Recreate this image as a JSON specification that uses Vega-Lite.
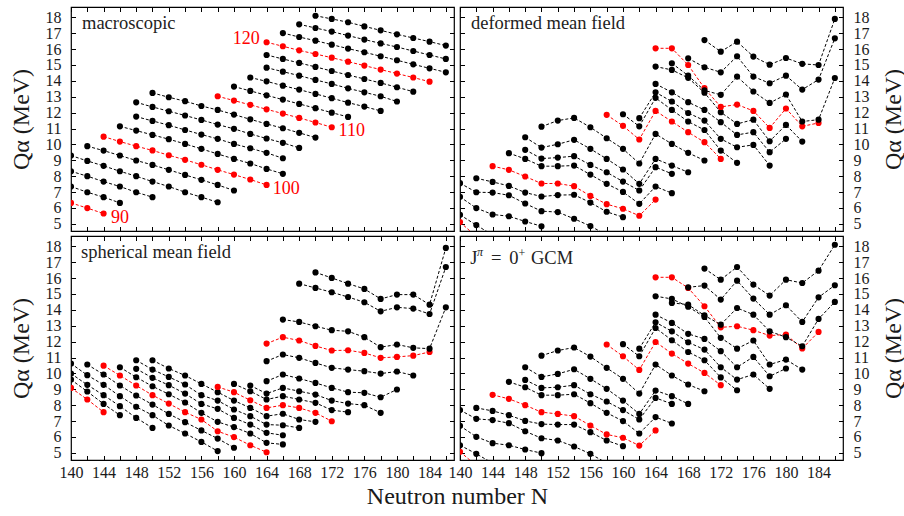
{
"$schema":"https://vega.github.io/schema/vega-lite/v6.json",
"padding":{"left":8,"top":5,"right":2,"bottom":2},
"background":"white",
"spacing":1,
"datasets":{
"lab":[{"p":"m","N":144.9,"Q":5.07,"t":"90"},{"p":"m","N":164.75,"Q":6.85,"t":"100"},{"p":"m","N":172.84,"Q":10.56,"t":"110"},{"p":"m","N":159.84,"Q":16.32,"t":"120"}],
"ttl":[{"p":"m","N":141.35,"Q":17.26,"t":"macroscopic"},{"p":"d","N":141.35,"Q":17.26,"t":"deformed mean field"},{"p":"s","N":141.23,"Q":17.26,"t":"spherical mean field"},{"p":"g","N":141.27,"Q":16.89,"t":"J"},{"p":"g","N":143.8,"Q":16.89,"t":"="},{"p":"g","N":146.05,"Q":16.89,"t":"0"},{"p":"g","N":148.71,"Q":16.89,"t":"GCM"}],
"sup":[{"p":"g","N":142.09,"Q":17.37,"t":"π"},{"p":"g","N":147.08,"Q":17.32,"t":"+"}],
"pts":[
{"p":"m","Z":90,"N":140,"Q":6.32},{"p":"m","Z":90,"N":142,"Q":5.99},{"p":"m","Z":90,"N":144,"Q":5.65},
{"p":"m","Z":92,"N":140,"Q":7.35},{"p":"m","Z":92,"N":142,"Q":6.99},{"p":"m","Z":92,"N":144,"Q":6.68},{"p":"m","Z":92,"N":146,"Q":6.32},
{"p":"m","Z":94,"N":140,"Q":8.31},{"p":"m","Z":94,"N":142,"Q":8.00},{"p":"m","Z":94,"N":144,"Q":7.66},{"p":"m","Z":94,"N":146,"Q":7.35},{"p":"m","Z":94,"N":148,"Q":6.99},{"p":"m","Z":94,"N":150,"Q":6.68},
{"p":"m","Z":96,"N":140,"Q":9.30},{"p":"m","Z":96,"N":142,"Q":8.96},{"p":"m","Z":96,"N":144,"Q":8.65},{"p":"m","Z":96,"N":146,"Q":8.31},{"p":"m","Z":96,"N":148,"Q":8.00},{"p":"m","Z":96,"N":150,"Q":7.66},{"p":"m","Z":96,"N":152,"Q":7.35},{"p":"m","Z":96,"N":154,"Q":6.99},{"p":"m","Z":96,"N":156,"Q":6.68},{"p":"m","Z":96,"N":158,"Q":6.36},
{"p":"m","Z":98,"N":142,"Q":9.89},{"p":"m","Z":98,"N":144,"Q":9.61},{"p":"m","Z":98,"N":146,"Q":9.30},{"p":"m","Z":98,"N":148,"Q":8.99},{"p":"m","Z":98,"N":150,"Q":8.71},{"p":"m","Z":98,"N":152,"Q":8.40},{"p":"m","Z":98,"N":154,"Q":8.08},{"p":"m","Z":98,"N":156,"Q":7.77},{"p":"m","Z":98,"N":158,"Q":7.45},{"p":"m","Z":98,"N":160,"Q":7.10},
{"p":"m","Z":100,"N":144,"Q":10.49},{"p":"m","Z":100,"N":146,"Q":10.18},{"p":"m","Z":100,"N":148,"Q":9.89},{"p":"m","Z":100,"N":150,"Q":9.62},{"p":"m","Z":100,"N":152,"Q":9.32},{"p":"m","Z":100,"N":154,"Q":9.03},{"p":"m","Z":100,"N":156,"Q":8.72},{"p":"m","Z":100,"N":158,"Q":8.40},{"p":"m","Z":100,"N":160,"Q":8.10},{"p":"m","Z":100,"N":162,"Q":7.79},{"p":"m","Z":100,"N":164,"Q":7.45},
{"p":"m","Z":102,"N":146,"Q":11.14},{"p":"m","Z":102,"N":148,"Q":10.87},{"p":"m","Z":102,"N":150,"Q":10.60},{"p":"m","Z":102,"N":152,"Q":10.33},{"p":"m","Z":102,"N":154,"Q":10.03},{"p":"m","Z":102,"N":156,"Q":9.72},{"p":"m","Z":102,"N":158,"Q":9.40},{"p":"m","Z":102,"N":160,"Q":9.09},{"p":"m","Z":102,"N":162,"Q":8.80},{"p":"m","Z":102,"N":164,"Q":8.46},{"p":"m","Z":102,"N":166,"Q":8.15},
{"p":"m","Z":104,"N":148,"Q":11.75},{"p":"m","Z":104,"N":150,"Q":11.48},{"p":"m","Z":104,"N":152,"Q":11.21},{"p":"m","Z":104,"N":154,"Q":10.91},{"p":"m","Z":104,"N":156,"Q":10.62},{"p":"m","Z":104,"N":158,"Q":10.35},{"p":"m","Z":104,"N":160,"Q":10.03},{"p":"m","Z":104,"N":162,"Q":9.76},{"p":"m","Z":104,"N":164,"Q":9.47},{"p":"m","Z":104,"N":166,"Q":9.13},
{"p":"m","Z":106,"N":148,"Q":12.65},{"p":"m","Z":106,"N":150,"Q":12.36},{"p":"m","Z":106,"N":152,"Q":12.09},{"p":"m","Z":106,"N":154,"Q":11.82},{"p":"m","Z":106,"N":156,"Q":11.54},{"p":"m","Z":106,"N":158,"Q":11.25},{"p":"m","Z":106,"N":160,"Q":10.98},{"p":"m","Z":106,"N":162,"Q":10.66},{"p":"m","Z":106,"N":164,"Q":10.37},{"p":"m","Z":106,"N":166,"Q":10.10},{"p":"m","Z":106,"N":168,"Q":9.78},
{"p":"m","Z":108,"N":150,"Q":13.24},{"p":"m","Z":108,"N":152,"Q":12.97},{"p":"m","Z":108,"N":154,"Q":12.72},{"p":"m","Z":108,"N":156,"Q":12.42},{"p":"m","Z":108,"N":158,"Q":12.17},{"p":"m","Z":108,"N":160,"Q":11.88},{"p":"m","Z":108,"N":162,"Q":11.58},{"p":"m","Z":108,"N":164,"Q":11.29},{"p":"m","Z":108,"N":166,"Q":11.02},{"p":"m","Z":108,"N":168,"Q":10.73},{"p":"m","Z":108,"N":170,"Q":10.43},
{"p":"m","Z":110,"N":158,"Q":13.03},{"p":"m","Z":110,"N":160,"Q":12.76},{"p":"m","Z":110,"N":162,"Q":12.49},{"p":"m","Z":110,"N":164,"Q":12.21},{"p":"m","Z":110,"N":166,"Q":11.94},{"p":"m","Z":110,"N":168,"Q":11.67},{"p":"m","Z":110,"N":170,"Q":11.38},{"p":"m","Z":110,"N":172,"Q":11.08},
{"p":"m","Z":112,"N":160,"Q":13.64},{"p":"m","Z":112,"N":162,"Q":13.37},{"p":"m","Z":112,"N":164,"Q":13.09},{"p":"m","Z":112,"N":166,"Q":12.82},{"p":"m","Z":112,"N":168,"Q":12.55},{"p":"m","Z":112,"N":170,"Q":12.28},{"p":"m","Z":112,"N":172,"Q":12.00},{"p":"m","Z":112,"N":174,"Q":11.73},
{"p":"m","Z":114,"N":162,"Q":14.21},{"p":"m","Z":114,"N":164,"Q":13.97},{"p":"m","Z":114,"N":166,"Q":13.70},{"p":"m","Z":114,"N":168,"Q":13.45},{"p":"m","Z":114,"N":170,"Q":13.18},{"p":"m","Z":114,"N":172,"Q":12.91},{"p":"m","Z":114,"N":174,"Q":12.63},{"p":"m","Z":114,"N":176,"Q":12.38},{"p":"m","Z":114,"N":178,"Q":12.11},
{"p":"m","Z":116,"N":164,"Q":14.83},{"p":"m","Z":116,"N":166,"Q":14.58},{"p":"m","Z":116,"N":168,"Q":14.33},{"p":"m","Z":116,"N":170,"Q":14.06},{"p":"m","Z":116,"N":172,"Q":13.81},{"p":"m","Z":116,"N":174,"Q":13.53},{"p":"m","Z":116,"N":176,"Q":13.28},{"p":"m","Z":116,"N":178,"Q":13.03},{"p":"m","Z":116,"N":180,"Q":12.70},
{"p":"m","Z":118,"N":164,"Q":15.63},{"p":"m","Z":118,"N":166,"Q":15.38},{"p":"m","Z":118,"N":168,"Q":15.13},{"p":"m","Z":118,"N":170,"Q":14.88},{"p":"m","Z":118,"N":172,"Q":14.62},{"p":"m","Z":118,"N":174,"Q":14.37},{"p":"m","Z":118,"N":176,"Q":14.12},{"p":"m","Z":118,"N":178,"Q":13.87},{"p":"m","Z":118,"N":180,"Q":13.60},{"p":"m","Z":118,"N":182,"Q":13.32},
{"p":"m","Z":120,"N":164,"Q":16.43},{"p":"m","Z":120,"N":166,"Q":16.18},{"p":"m","Z":120,"N":168,"Q":15.92},{"p":"m","Z":120,"N":170,"Q":15.69},{"p":"m","Z":120,"N":172,"Q":15.46},{"p":"m","Z":120,"N":174,"Q":15.21},{"p":"m","Z":120,"N":176,"Q":14.96},{"p":"m","Z":120,"N":178,"Q":14.71},{"p":"m","Z":120,"N":180,"Q":14.46},{"p":"m","Z":120,"N":182,"Q":14.21},{"p":"m","Z":120,"N":184,"Q":13.95},
{"p":"m","Z":122,"N":166,"Q":17.01},{"p":"m","Z":122,"N":168,"Q":16.76},{"p":"m","Z":122,"N":170,"Q":16.53},{"p":"m","Z":122,"N":172,"Q":16.28},{"p":"m","Z":122,"N":174,"Q":16.03},{"p":"m","Z":122,"N":176,"Q":15.80},{"p":"m","Z":122,"N":178,"Q":15.55},{"p":"m","Z":122,"N":180,"Q":15.30},{"p":"m","Z":122,"N":182,"Q":15.04},{"p":"m","Z":122,"N":184,"Q":14.79},{"p":"m","Z":122,"N":186,"Q":14.54},
{"p":"m","Z":124,"N":168,"Q":17.56},{"p":"m","Z":124,"N":170,"Q":17.33},{"p":"m","Z":124,"N":172,"Q":17.10},{"p":"m","Z":124,"N":174,"Q":16.85},{"p":"m","Z":124,"N":176,"Q":16.60},{"p":"m","Z":124,"N":178,"Q":16.36},{"p":"m","Z":124,"N":180,"Q":16.13},{"p":"m","Z":124,"N":182,"Q":15.88},{"p":"m","Z":124,"N":184,"Q":15.63},{"p":"m","Z":124,"N":186,"Q":15.38},
{"p":"m","Z":126,"N":170,"Q":18.10},{"p":"m","Z":126,"N":172,"Q":17.90},{"p":"m","Z":126,"N":174,"Q":17.69},{"p":"m","Z":126,"N":176,"Q":17.43},{"p":"m","Z":126,"N":178,"Q":17.18},{"p":"m","Z":126,"N":180,"Q":16.93},{"p":"m","Z":126,"N":182,"Q":16.70},{"p":"m","Z":126,"N":184,"Q":16.47},{"p":"m","Z":126,"N":186,"Q":16.22},

{"p":"d","Z":90,"N":140,"Q":5.11},{"p":"d","Z":90,"N":142,"Q":4.2},
{"p":"d","Z":92,"N":140,"Q":5.57},{"p":"d","Z":92,"N":142,"Q":4.92},{"p":"d","Z":92,"N":144,"Q":4.3},
{"p":"d","Z":94,"N":140,"Q":6.70},{"p":"d","Z":94,"N":142,"Q":5.99},{"p":"d","Z":94,"N":144,"Q":5.59},{"p":"d","Z":94,"N":146,"Q":5.48},{"p":"d","Z":94,"N":148,"Q":5.15},{"p":"d","Z":94,"N":150,"Q":4.85},
{"p":"d","Z":96,"N":140,"Q":7.56},{"p":"d","Z":96,"N":142,"Q":6.99},{"p":"d","Z":96,"N":144,"Q":6.97},{"p":"d","Z":96,"N":146,"Q":6.80},{"p":"d","Z":96,"N":148,"Q":6.28},{"p":"d","Z":96,"N":150,"Q":5.80},{"p":"d","Z":96,"N":152,"Q":5.74},{"p":"d","Z":96,"N":154,"Q":5.32},{"p":"d","Z":96,"N":156,"Q":4.86},{"p":"d","Z":96,"N":158,"Q":4.3},
{"p":"d","Z":98,"N":142,"Q":7.87},{"p":"d","Z":98,"N":144,"Q":7.64},{"p":"d","Z":98,"N":146,"Q":7.39},{"p":"d","Z":98,"N":148,"Q":6.97},{"p":"d","Z":98,"N":150,"Q":6.72},{"p":"d","Z":98,"N":152,"Q":6.81},{"p":"d","Z":98,"N":154,"Q":6.83},{"p":"d","Z":98,"N":156,"Q":6.34},{"p":"d","Z":98,"N":158,"Q":5.76},{"p":"d","Z":98,"N":160,"Q":5.42},
{"p":"d","Z":100,"N":144,"Q":8.63},{"p":"d","Z":100,"N":146,"Q":8.40},{"p":"d","Z":100,"N":148,"Q":7.98},{"p":"d","Z":100,"N":150,"Q":7.54},{"p":"d","Z":100,"N":152,"Q":7.54},{"p":"d","Z":100,"N":154,"Q":7.37},{"p":"d","Z":100,"N":156,"Q":6.76},{"p":"d","Z":100,"N":158,"Q":6.24},{"p":"d","Z":100,"N":160,"Q":5.95},{"p":"d","Z":100,"N":162,"Q":5.51},{"p":"d","Z":100,"N":164,"Q":6.53},
{"p":"d","Z":102,"N":146,"Q":9.45},{"p":"d","Z":102,"N":148,"Q":9.09},{"p":"d","Z":102,"N":150,"Q":8.63},{"p":"d","Z":102,"N":152,"Q":8.63},{"p":"d","Z":102,"N":154,"Q":8.67},{"p":"d","Z":102,"N":156,"Q":8.10},{"p":"d","Z":102,"N":158,"Q":7.52},{"p":"d","Z":102,"N":160,"Q":7.01},{"p":"d","Z":102,"N":162,"Q":6.26},{"p":"d","Z":102,"N":164,"Q":7.35},{"p":"d","Z":102,"N":166,"Q":6.93},
{"p":"d","Z":104,"N":148,"Q":9.66},{"p":"d","Z":104,"N":150,"Q":9.11},{"p":"d","Z":104,"N":152,"Q":9.17},{"p":"d","Z":104,"N":154,"Q":9.26},{"p":"d","Z":104,"N":156,"Q":8.71},{"p":"d","Z":104,"N":158,"Q":8.25},{"p":"d","Z":104,"N":160,"Q":7.66},{"p":"d","Z":104,"N":162,"Q":7.10},{"p":"d","Z":104,"N":164,"Q":8.57},{"p":"d","Z":104,"N":166,"Q":8.15},
{"p":"d","Z":106,"N":148,"Q":10.45},{"p":"d","Z":106,"N":150,"Q":9.80},{"p":"d","Z":106,"N":152,"Q":10.01},{"p":"d","Z":106,"N":154,"Q":10.29},{"p":"d","Z":106,"N":156,"Q":9.72},{"p":"d","Z":106,"N":158,"Q":9.09},{"p":"d","Z":106,"N":160,"Q":8.42},{"p":"d","Z":106,"N":162,"Q":7.52},{"p":"d","Z":106,"N":164,"Q":9.09},{"p":"d","Z":106,"N":166,"Q":8.67},{"p":"d","Z":106,"N":168,"Q":8.25},
{"p":"d","Z":108,"N":150,"Q":11.12},{"p":"d","Z":108,"N":152,"Q":11.50},{"p":"d","Z":108,"N":154,"Q":11.67},{"p":"d","Z":108,"N":156,"Q":11.08},{"p":"d","Z":108,"N":158,"Q":10.39},{"p":"d","Z":108,"N":160,"Q":9.72},{"p":"d","Z":108,"N":162,"Q":8.80},{"p":"d","Z":108,"N":164,"Q":10.66},{"p":"d","Z":108,"N":166,"Q":10.03},{"p":"d","Z":108,"N":168,"Q":9.47},{"p":"d","Z":108,"N":170,"Q":8.99},
{"p":"d","Z":110,"N":158,"Q":11.86},{"p":"d","Z":110,"N":160,"Q":11.17},{"p":"d","Z":110,"N":162,"Q":10.31},{"p":"d","Z":110,"N":164,"Q":12.11},{"p":"d","Z":110,"N":166,"Q":11.44},{"p":"d","Z":110,"N":168,"Q":10.77},{"p":"d","Z":110,"N":170,"Q":10.14},{"p":"d","Z":110,"N":172,"Q":9.09},
{"p":"d","Z":112,"N":160,"Q":11.90},{"p":"d","Z":112,"N":162,"Q":11.14},{"p":"d","Z":112,"N":164,"Q":12.93},{"p":"d","Z":112,"N":166,"Q":12.17},{"p":"d","Z":112,"N":168,"Q":11.44},{"p":"d","Z":112,"N":170,"Q":10.91},{"p":"d","Z":112,"N":172,"Q":9.61},{"p":"d","Z":112,"N":174,"Q":8.84},
{"p":"d","Z":114,"N":162,"Q":11.65},{"p":"d","Z":114,"N":164,"Q":13.28},{"p":"d","Z":114,"N":166,"Q":12.70},{"p":"d","Z":114,"N":168,"Q":11.98},{"p":"d","Z":114,"N":170,"Q":11.50},{"p":"d","Z":114,"N":172,"Q":10.35},{"p":"d","Z":114,"N":174,"Q":9.82},{"p":"d","Z":114,"N":176,"Q":9.97},{"p":"d","Z":114,"N":178,"Q":8.67},
{"p":"d","Z":116,"N":164,"Q":13.81},{"p":"d","Z":116,"N":166,"Q":13.28},{"p":"d","Z":116,"N":168,"Q":12.66},{"p":"d","Z":116,"N":170,"Q":12.17},{"p":"d","Z":116,"N":172,"Q":11.40},{"p":"d","Z":116,"N":174,"Q":10.60},{"p":"d","Z":116,"N":176,"Q":10.77},{"p":"d","Z":116,"N":178,"Q":9.51},{"p":"d","Z":116,"N":180,"Q":10.35},
{"p":"d","Z":118,"N":164,"Q":14.90},{"p":"d","Z":118,"N":166,"Q":14.69},{"p":"d","Z":118,"N":168,"Q":14.19},{"p":"d","Z":118,"N":170,"Q":13.25},{"p":"d","Z":118,"N":172,"Q":12.03},{"p":"d","Z":118,"N":174,"Q":11.29},{"p":"d","Z":118,"N":176,"Q":11.56},{"p":"d","Z":118,"N":178,"Q":10.20},{"p":"d","Z":118,"N":180,"Q":11.23},{"p":"d","Z":118,"N":182,"Q":10.18},
{"p":"d","Z":120,"N":164,"Q":16.05},{"p":"d","Z":120,"N":166,"Q":16.05},{"p":"d","Z":120,"N":168,"Q":15.00},{"p":"d","Z":120,"N":170,"Q":13.54},{"p":"d","Z":120,"N":172,"Q":12.36},{"p":"d","Z":120,"N":174,"Q":12.51},{"p":"d","Z":120,"N":176,"Q":12.11},{"p":"d","Z":120,"N":178,"Q":11.04},{"p":"d","Z":120,"N":180,"Q":12.26},{"p":"d","Z":120,"N":182,"Q":11.14},{"p":"d","Z":120,"N":184,"Q":11.35},
{"p":"d","Z":122,"N":166,"Q":15.11},{"p":"d","Z":122,"N":168,"Q":14.33},{"p":"d","Z":122,"N":170,"Q":13.40},{"p":"d","Z":122,"N":172,"Q":13.12},{"p":"d","Z":122,"N":174,"Q":14.27},{"p":"d","Z":122,"N":176,"Q":13.33},{"p":"d","Z":122,"N":178,"Q":12.61},{"p":"d","Z":122,"N":180,"Q":13.14},{"p":"d","Z":122,"N":182,"Q":11.44},{"p":"d","Z":122,"N":184,"Q":11.56},{"p":"d","Z":122,"N":186,"Q":14.18},
{"p":"d","Z":124,"N":168,"Q":15.42},{"p":"d","Z":124,"N":170,"Q":14.86},{"p":"d","Z":124,"N":172,"Q":14.54},{"p":"d","Z":124,"N":174,"Q":15.55},{"p":"d","Z":124,"N":176,"Q":14.27},{"p":"d","Z":124,"N":178,"Q":13.85},{"p":"d","Z":124,"N":180,"Q":14.33},{"p":"d","Z":124,"N":182,"Q":13.45},{"p":"d","Z":124,"N":184,"Q":14.08},{"p":"d","Z":124,"N":186,"Q":16.68},
{"p":"d","Z":126,"N":170,"Q":16.57},{"p":"d","Z":126,"N":172,"Q":15.84},{"p":"d","Z":126,"N":174,"Q":16.47},{"p":"d","Z":126,"N":176,"Q":15.53},{"p":"d","Z":126,"N":178,"Q":15.02},{"p":"d","Z":126,"N":180,"Q":15.44},{"p":"d","Z":126,"N":182,"Q":15.07},{"p":"d","Z":126,"N":184,"Q":15.00},{"p":"d","Z":126,"N":186,"Q":17.90},

{"p":"s","Z":90,"N":140,"Q":9.09},{"p":"s","Z":90,"N":142,"Q":8.36},{"p":"s","Z":90,"N":144,"Q":7.56},
{"p":"s","Z":92,"N":140,"Q":9.61},{"p":"s","Z":92,"N":142,"Q":8.86},{"p":"s","Z":92,"N":144,"Q":8.08},{"p":"s","Z":92,"N":146,"Q":7.37},
{"p":"s","Z":94,"N":140,"Q":9.99},{"p":"s","Z":94,"N":142,"Q":9.28},{"p":"s","Z":94,"N":144,"Q":8.63},{"p":"s","Z":94,"N":146,"Q":7.94},{"p":"s","Z":94,"N":148,"Q":7.20},{"p":"s","Z":94,"N":150,"Q":6.57},
{"p":"s","Z":96,"N":140,"Q":10.62},{"p":"s","Z":96,"N":142,"Q":9.89},{"p":"s","Z":96,"N":144,"Q":9.28},{"p":"s","Z":96,"N":146,"Q":8.57},{"p":"s","Z":96,"N":148,"Q":7.90},{"p":"s","Z":96,"N":150,"Q":7.37},{"p":"s","Z":96,"N":152,"Q":6.72},{"p":"s","Z":96,"N":154,"Q":6.22},{"p":"s","Z":96,"N":156,"Q":5.69},{"p":"s","Z":96,"N":158,"Q":5.11},
{"p":"s","Z":98,"N":142,"Q":10.56},{"p":"s","Z":98,"N":144,"Q":9.93},{"p":"s","Z":98,"N":146,"Q":9.24},{"p":"s","Z":98,"N":148,"Q":8.61},{"p":"s","Z":98,"N":150,"Q":8.04},{"p":"s","Z":98,"N":152,"Q":7.45},{"p":"s","Z":98,"N":154,"Q":6.93},{"p":"s","Z":98,"N":156,"Q":6.41},{"p":"s","Z":98,"N":158,"Q":5.90},{"p":"s","Z":98,"N":160,"Q":5.32},
{"p":"s","Z":100,"N":144,"Q":10.49},{"p":"s","Z":100,"N":146,"Q":9.87},{"p":"s","Z":100,"N":148,"Q":9.24},{"p":"s","Z":100,"N":150,"Q":8.63},{"p":"s","Z":100,"N":152,"Q":8.10},{"p":"s","Z":100,"N":154,"Q":7.56},{"p":"s","Z":100,"N":156,"Q":7.10},{"p":"s","Z":100,"N":158,"Q":6.36},{"p":"s","Z":100,"N":160,"Q":5.99},{"p":"s","Z":100,"N":162,"Q":5.48},{"p":"s","Z":100,"N":164,"Q":5.04},
{"p":"s","Z":102,"N":146,"Q":10.39},{"p":"s","Z":102,"N":148,"Q":9.76},{"p":"s","Z":102,"N":150,"Q":9.19},{"p":"s","Z":102,"N":152,"Q":8.69},{"p":"s","Z":102,"N":154,"Q":8.17},{"p":"s","Z":102,"N":156,"Q":7.52},{"p":"s","Z":102,"N":158,"Q":6.95},{"p":"s","Z":102,"N":160,"Q":6.62},{"p":"s","Z":102,"N":162,"Q":6.22},{"p":"s","Z":102,"N":164,"Q":5.63},{"p":"s","Z":102,"N":166,"Q":5.53},
{"p":"s","Z":104,"N":148,"Q":10.29},{"p":"s","Z":104,"N":150,"Q":9.72},{"p":"s","Z":104,"N":152,"Q":9.26},{"p":"s","Z":104,"N":154,"Q":8.73},{"p":"s","Z":104,"N":156,"Q":8.08},{"p":"s","Z":104,"N":158,"Q":7.77},{"p":"s","Z":104,"N":160,"Q":7.20},{"p":"s","Z":104,"N":162,"Q":6.78},{"p":"s","Z":104,"N":164,"Q":6.26},{"p":"s","Z":104,"N":166,"Q":6.11},
{"p":"s","Z":106,"N":148,"Q":10.83},{"p":"s","Z":106,"N":150,"Q":10.24},{"p":"s","Z":106,"N":152,"Q":9.78},{"p":"s","Z":106,"N":154,"Q":9.30},{"p":"s","Z":106,"N":156,"Q":8.63},{"p":"s","Z":106,"N":158,"Q":8.29},{"p":"s","Z":106,"N":160,"Q":7.73},{"p":"s","Z":106,"N":162,"Q":7.31},{"p":"s","Z":106,"N":164,"Q":6.78},{"p":"s","Z":106,"N":166,"Q":6.74},{"p":"s","Z":106,"N":168,"Q":6.57},
{"p":"s","Z":108,"N":150,"Q":10.83},{"p":"s","Z":108,"N":152,"Q":10.31},{"p":"s","Z":108,"N":154,"Q":9.87},{"p":"s","Z":108,"N":156,"Q":9.34},{"p":"s","Z":108,"N":158,"Q":8.82},{"p":"s","Z":108,"N":160,"Q":8.29},{"p":"s","Z":108,"N":162,"Q":7.83},{"p":"s","Z":108,"N":164,"Q":7.31},{"p":"s","Z":108,"N":166,"Q":7.46},{"p":"s","Z":108,"N":168,"Q":7.10},{"p":"s","Z":108,"N":170,"Q":6.95},
{"p":"s","Z":110,"N":158,"Q":9.15},{"p":"s","Z":110,"N":160,"Q":8.82},{"p":"s","Z":110,"N":162,"Q":8.31},{"p":"s","Z":110,"N":164,"Q":7.83},{"p":"s","Z":110,"N":166,"Q":8.00},{"p":"s","Z":110,"N":168,"Q":7.83},{"p":"s","Z":110,"N":170,"Q":7.52},{"p":"s","Z":110,"N":172,"Q":6.99},
{"p":"s","Z":112,"N":160,"Q":9.34},{"p":"s","Z":112,"N":162,"Q":8.88},{"p":"s","Z":112,"N":164,"Q":8.36},{"p":"s","Z":112,"N":166,"Q":8.57},{"p":"s","Z":112,"N":168,"Q":8.36},{"p":"s","Z":112,"N":170,"Q":8.15},{"p":"s","Z":112,"N":172,"Q":7.69},{"p":"s","Z":112,"N":174,"Q":7.56},
{"p":"s","Z":114,"N":162,"Q":9.24},{"p":"s","Z":114,"N":164,"Q":8.73},{"p":"s","Z":114,"N":166,"Q":9.09},{"p":"s","Z":114,"N":168,"Q":8.88},{"p":"s","Z":114,"N":170,"Q":8.67},{"p":"s","Z":114,"N":172,"Q":8.29},{"p":"s","Z":114,"N":174,"Q":8.10},{"p":"s","Z":114,"N":176,"Q":8.00},{"p":"s","Z":114,"N":178,"Q":7.52},
{"p":"s","Z":116,"N":164,"Q":9.51},{"p":"s","Z":116,"N":166,"Q":9.93},{"p":"s","Z":116,"N":168,"Q":9.68},{"p":"s","Z":116,"N":170,"Q":9.40},{"p":"s","Z":116,"N":172,"Q":9.09},{"p":"s","Z":116,"N":174,"Q":8.82},{"p":"s","Z":116,"N":176,"Q":8.78},{"p":"s","Z":116,"N":178,"Q":8.50},{"p":"s","Z":116,"N":180,"Q":8.99},
{"p":"s","Z":118,"N":164,"Q":10.77},{"p":"s","Z":118,"N":166,"Q":11.19},{"p":"s","Z":118,"N":168,"Q":10.98},{"p":"s","Z":118,"N":170,"Q":10.66},{"p":"s","Z":118,"N":172,"Q":10.35},{"p":"s","Z":118,"N":174,"Q":10.24},{"p":"s","Z":118,"N":176,"Q":10.14},{"p":"s","Z":118,"N":178,"Q":9.99},{"p":"s","Z":118,"N":180,"Q":10.12},{"p":"s","Z":118,"N":182,"Q":9.87},
{"p":"s","Z":120,"N":164,"Q":11.88},{"p":"s","Z":120,"N":166,"Q":12.28},{"p":"s","Z":120,"N":168,"Q":12.07},{"p":"s","Z":120,"N":170,"Q":11.73},{"p":"s","Z":120,"N":172,"Q":11.44},{"p":"s","Z":120,"N":174,"Q":11.46},{"p":"s","Z":120,"N":176,"Q":11.29},{"p":"s","Z":120,"N":178,"Q":10.98},{"p":"s","Z":120,"N":180,"Q":11.04},{"p":"s","Z":120,"N":182,"Q":11.12},{"p":"s","Z":120,"N":184,"Q":11.35},
{"p":"s","Z":122,"N":166,"Q":13.39},{"p":"s","Z":122,"N":168,"Q":13.24},{"p":"s","Z":122,"N":170,"Q":12.97},{"p":"s","Z":122,"N":172,"Q":12.72},{"p":"s","Z":122,"N":174,"Q":12.65},{"p":"s","Z":122,"N":176,"Q":12.28},{"p":"s","Z":122,"N":178,"Q":11.65},{"p":"s","Z":122,"N":180,"Q":11.82},{"p":"s","Z":122,"N":182,"Q":11.61},{"p":"s","Z":122,"N":184,"Q":11.56},{"p":"s","Z":122,"N":186,"Q":14.16},
{"p":"s","Z":124,"N":168,"Q":15.65},{"p":"s","Z":124,"N":170,"Q":15.38},{"p":"s","Z":124,"N":172,"Q":15.11},{"p":"s","Z":124,"N":174,"Q":14.81},{"p":"s","Z":124,"N":176,"Q":14.48},{"p":"s","Z":124,"N":178,"Q":13.91},{"p":"s","Z":124,"N":180,"Q":14.16},{"p":"s","Z":124,"N":182,"Q":14.08},{"p":"s","Z":124,"N":184,"Q":13.74},{"p":"s","Z":124,"N":186,"Q":16.70},
{"p":"s","Z":126,"N":170,"Q":16.36},{"p":"s","Z":126,"N":172,"Q":16.01},{"p":"s","Z":126,"N":174,"Q":15.65},{"p":"s","Z":126,"N":176,"Q":15.32},{"p":"s","Z":126,"N":178,"Q":14.69},{"p":"s","Z":126,"N":180,"Q":14.96},{"p":"s","Z":126,"N":182,"Q":14.96},{"p":"s","Z":126,"N":184,"Q":14.33},{"p":"s","Z":126,"N":186,"Q":17.90},

{"p":"g","Z":90,"N":140,"Q":5.07},{"p":"g","Z":90,"N":142,"Q":4.2},
{"p":"g","Z":92,"N":140,"Q":5.48},{"p":"g","Z":92,"N":142,"Q":4.94},{"p":"g","Z":92,"N":144,"Q":4.35},
{"p":"g","Z":94,"N":140,"Q":6.70},{"p":"g","Z":94,"N":142,"Q":6.01},{"p":"g","Z":94,"N":144,"Q":5.61},{"p":"g","Z":94,"N":146,"Q":5.48},{"p":"g","Z":94,"N":148,"Q":5.21},{"p":"g","Z":94,"N":150,"Q":4.98},
{"p":"g","Z":96,"N":140,"Q":7.69},{"p":"g","Z":96,"N":142,"Q":7.14},{"p":"g","Z":96,"N":144,"Q":7.06},{"p":"g","Z":96,"N":146,"Q":6.87},{"p":"g","Z":96,"N":148,"Q":6.36},{"p":"g","Z":96,"N":150,"Q":5.92},{"p":"g","Z":96,"N":152,"Q":5.78},{"p":"g","Z":96,"N":154,"Q":5.40},{"p":"g","Z":96,"N":156,"Q":4.94},{"p":"g","Z":96,"N":158,"Q":4.35},
{"p":"g","Z":98,"N":142,"Q":7.83},{"p":"g","Z":98,"N":144,"Q":7.64},{"p":"g","Z":98,"N":146,"Q":7.37},{"p":"g","Z":98,"N":148,"Q":7.01},{"p":"g","Z":98,"N":150,"Q":6.81},{"p":"g","Z":98,"N":152,"Q":6.78},{"p":"g","Z":98,"N":154,"Q":6.78},{"p":"g","Z":98,"N":156,"Q":6.30},{"p":"g","Z":98,"N":158,"Q":5.78},{"p":"g","Z":98,"N":160,"Q":5.42},
{"p":"g","Z":100,"N":144,"Q":8.65},{"p":"g","Z":100,"N":146,"Q":8.40},{"p":"g","Z":100,"N":148,"Q":8.00},{"p":"g","Z":100,"N":150,"Q":7.56},{"p":"g","Z":100,"N":152,"Q":7.45},{"p":"g","Z":100,"N":154,"Q":7.31},{"p":"g","Z":100,"N":156,"Q":6.72},{"p":"g","Z":100,"N":158,"Q":6.16},{"p":"g","Z":100,"N":160,"Q":5.95},{"p":"g","Z":100,"N":162,"Q":5.46},{"p":"g","Z":100,"N":164,"Q":6.41},
{"p":"g","Z":102,"N":146,"Q":9.47},{"p":"g","Z":102,"N":148,"Q":9.13},{"p":"g","Z":102,"N":150,"Q":8.63},{"p":"g","Z":102,"N":152,"Q":8.63},{"p":"g","Z":102,"N":154,"Q":8.69},{"p":"g","Z":102,"N":156,"Q":8.13},{"p":"g","Z":102,"N":158,"Q":7.52},{"p":"g","Z":102,"N":160,"Q":7.00},{"p":"g","Z":102,"N":162,"Q":6.22},{"p":"g","Z":102,"N":164,"Q":7.25},{"p":"g","Z":102,"N":166,"Q":6.85},
{"p":"g","Z":104,"N":148,"Q":9.59},{"p":"g","Z":104,"N":150,"Q":9.09},{"p":"g","Z":104,"N":152,"Q":9.13},{"p":"g","Z":104,"N":154,"Q":9.26},{"p":"g","Z":104,"N":156,"Q":8.69},{"p":"g","Z":104,"N":158,"Q":8.23},{"p":"g","Z":104,"N":160,"Q":7.69},{"p":"g","Z":104,"N":162,"Q":7.10},{"p":"g","Z":104,"N":164,"Q":8.46},{"p":"g","Z":104,"N":166,"Q":8.08},
{"p":"g","Z":106,"N":148,"Q":10.39},{"p":"g","Z":106,"N":150,"Q":9.78},{"p":"g","Z":106,"N":152,"Q":9.97},{"p":"g","Z":106,"N":154,"Q":10.26},{"p":"g","Z":106,"N":156,"Q":9.66},{"p":"g","Z":106,"N":158,"Q":9.03},{"p":"g","Z":106,"N":160,"Q":8.29},{"p":"g","Z":106,"N":162,"Q":7.45},{"p":"g","Z":106,"N":164,"Q":8.92},{"p":"g","Z":106,"N":166,"Q":8.57},{"p":"g","Z":106,"N":168,"Q":8.08},
{"p":"g","Z":108,"N":150,"Q":11.12},{"p":"g","Z":108,"N":152,"Q":11.44},{"p":"g","Z":108,"N":154,"Q":11.63},{"p":"g","Z":108,"N":156,"Q":11.06},{"p":"g","Z":108,"N":158,"Q":10.35},{"p":"g","Z":108,"N":160,"Q":9.66},{"p":"g","Z":108,"N":162,"Q":8.73},{"p":"g","Z":108,"N":164,"Q":10.56},{"p":"g","Z":108,"N":166,"Q":9.87},{"p":"g","Z":108,"N":168,"Q":9.30},{"p":"g","Z":108,"N":170,"Q":8.88},
{"p":"g","Z":110,"N":158,"Q":11.82},{"p":"g","Z":110,"N":160,"Q":11.08},{"p":"g","Z":110,"N":162,"Q":10.22},{"p":"g","Z":110,"N":164,"Q":11.98},{"p":"g","Z":110,"N":166,"Q":11.25},{"p":"g","Z":110,"N":168,"Q":10.62},{"p":"g","Z":110,"N":170,"Q":10.03},{"p":"g","Z":110,"N":172,"Q":9.26},
{"p":"g","Z":112,"N":160,"Q":11.84},{"p":"g","Z":112,"N":162,"Q":11.08},{"p":"g","Z":112,"N":164,"Q":12.86},{"p":"g","Z":112,"N":166,"Q":12.09},{"p":"g","Z":112,"N":168,"Q":11.35},{"p":"g","Z":112,"N":170,"Q":10.83},{"p":"g","Z":112,"N":172,"Q":9.75},{"p":"g","Z":112,"N":174,"Q":8.94},
{"p":"g","Z":114,"N":162,"Q":11.56},{"p":"g","Z":114,"N":164,"Q":13.22},{"p":"g","Z":114,"N":166,"Q":12.65},{"p":"g","Z":114,"N":168,"Q":11.96},{"p":"g","Z":114,"N":170,"Q":11.50},{"p":"g","Z":114,"N":172,"Q":10.39},{"p":"g","Z":114,"N":174,"Q":9.61},{"p":"g","Z":114,"N":176,"Q":9.93},{"p":"g","Z":114,"N":178,"Q":9.03},
{"p":"g","Z":116,"N":164,"Q":13.70},{"p":"g","Z":116,"N":166,"Q":13.18},{"p":"g","Z":116,"N":168,"Q":12.49},{"p":"g","Z":116,"N":170,"Q":12.17},{"p":"g","Z":116,"N":172,"Q":11.40},{"p":"g","Z":116,"N":174,"Q":10.39},{"p":"g","Z":116,"N":176,"Q":11.04},{"p":"g","Z":116,"N":178,"Q":9.82},{"p":"g","Z":116,"N":180,"Q":10.31},
{"p":"g","Z":118,"N":164,"Q":14.86},{"p":"g","Z":118,"N":166,"Q":14.69},{"p":"g","Z":118,"N":168,"Q":14.20},{"p":"g","Z":118,"N":170,"Q":13.55},{"p":"g","Z":118,"N":172,"Q":12.24},{"p":"g","Z":118,"N":174,"Q":11.56},{"p":"g","Z":118,"N":176,"Q":12.07},{"p":"g","Z":118,"N":178,"Q":10.56},{"p":"g","Z":118,"N":180,"Q":10.87},{"p":"g","Z":118,"N":182,"Q":10.24},
{"p":"g","Z":120,"N":164,"Q":16.05},{"p":"g","Z":120,"N":166,"Q":16.05},{"p":"g","Z":120,"N":168,"Q":15.38},{"p":"g","Z":120,"N":170,"Q":14.23},{"p":"g","Z":120,"N":172,"Q":12.90},{"p":"g","Z":120,"N":174,"Q":12.97},{"p":"g","Z":120,"N":176,"Q":12.72},{"p":"g","Z":120,"N":178,"Q":12.38},{"p":"g","Z":120,"N":180,"Q":12.45},{"p":"g","Z":120,"N":182,"Q":11.57},{"p":"g","Z":120,"N":184,"Q":12.61},
{"p":"g","Z":122,"N":166,"Q":14.44},{"p":"g","Z":122,"N":168,"Q":14.33},{"p":"g","Z":122,"N":170,"Q":13.65},{"p":"g","Z":122,"N":172,"Q":13.07},{"p":"g","Z":122,"N":174,"Q":14.12},{"p":"g","Z":122,"N":176,"Q":13.70},{"p":"g","Z":122,"N":178,"Q":12.65},{"p":"g","Z":122,"N":180,"Q":12.28},{"p":"g","Z":122,"N":182,"Q":11.71},{"p":"g","Z":122,"N":184,"Q":13.43},{"p":"g","Z":122,"N":186,"Q":14.50},
{"p":"g","Z":124,"N":168,"Q":15.42},{"p":"g","Z":124,"N":170,"Q":15.53},{"p":"g","Z":124,"N":172,"Q":14.65},{"p":"g","Z":124,"N":174,"Q":15.84},{"p":"g","Z":124,"N":176,"Q":14.71},{"p":"g","Z":124,"N":178,"Q":13.70},{"p":"g","Z":124,"N":180,"Q":14.29},{"p":"g","Z":124,"N":182,"Q":13.24},{"p":"g","Z":124,"N":184,"Q":14.79},{"p":"g","Z":124,"N":186,"Q":15.55},
{"p":"g","Z":126,"N":170,"Q":16.60},{"p":"g","Z":126,"N":172,"Q":15.90},{"p":"g","Z":126,"N":174,"Q":16.70},{"p":"g","Z":126,"N":176,"Q":15.59},{"p":"g","Z":126,"N":178,"Q":14.90},{"p":"g","Z":126,"N":180,"Q":15.90},{"p":"g","Z":126,"N":182,"Q":15.69},{"p":"g","Z":126,"N":184,"Q":16.47},{"p":"g","Z":126,"N":186,"Q":18.10}
]},
"vconcat":[
{"hconcat":[
{"width":383,"height":224,
 "layer":[
  {"data":{"name":"pts"},"transform":[{"filter":"datum.p=='m'"}],
   "mark":{"type":"line","strokeDash":[3,2],"strokeWidth":1,"clip":true},
   "encoding":{
    "x":{"field":"N","type":"quantitative","scale":{"domain":[140,187],"nice":false,"zero":false},"axis":{"orient":"bottom","values":[140,142,144,146,148,150,152,154,156,158,160,162,164,166,168,170,172,174,176,178,180,182,184,186],"labels":false,"tickSize":-4.5,"title":null}},
    "y":{"field":"Q","type":"quantitative","scale":{"domain":[4.55,18.65],"nice":false,"zero":false},"axis":{"orient":"left","values":[5,6,7,8,9,10,11,12,13,14,15,16,17,18],"tickSize":-4.5,"labelPadding":14.5,"title":"Qα (MeV)","titlePadding":12}},
    "color":{"field":"Z","type":"nominal","scale":{"domain":[90,92,94,96,98,100,102,104,106,108,110,112,114,116,118,120,122,124,126],"range":["#ff0000","#000000","#000000","#000000","#000000","#ff0000","#000000","#000000","#000000","#000000","#ff0000","#000000","#000000","#000000","#000000","#ff0000","#000000","#000000","#000000"]},"legend":null}}},
  {"data":{"name":"pts"},"transform":[{"filter":"datum.p=='m'"}],
   "mark":{"type":"circle","size":38,"opacity":1,"clip":true},
   "encoding":{
    "x":{"field":"N","type":"quantitative","scale":{"domain":[140,187],"nice":false,"zero":false},"axis":{"orient":"top","values":[140,142,144,146,148,150,152,154,156,158,160,162,164,166,168,170,172,174,176,178,180,182,184,186],"labels":false,"tickSize":-4.5,"title":null}},
    "y":{"field":"Q","type":"quantitative","scale":{"domain":[4.55,18.65],"nice":false,"zero":false},"axis":{"orient":"right","values":[5,6,7,8,9,10,11,12,13,14,15,16,17,18],"labels":false,"tickSize":-4.5,"title":null}},
    "color":{"field":"Z","type":"nominal","scale":{"domain":[90,92,94,96,98,100,102,104,106,108,110,112,114,116,118,120,122,124,126],"range":["#ff0000","#000000","#000000","#000000","#000000","#ff0000","#000000","#000000","#000000","#000000","#ff0000","#000000","#000000","#000000","#000000","#ff0000","#000000","#000000","#000000"]},"legend":null}}},
  {"data":{"name":"lab"},
   "mark":{"type":"text","fontSize":18,"align":"left","baseline":"alphabetic","color":"#ff0000","font":"Liberation Serif"},
   "encoding":{"x":{"field":"N","type":"quantitative","scale":{"domain":[140,187],"nice":false,"zero":false},"axis":null},"y":{"field":"Q","type":"quantitative","scale":{"domain":[4.55,18.65],"nice":false,"zero":false},"axis":null},"text":{"field":"t"}}},
  {"data":{"name":"ttl"},"transform":[{"filter":"datum.p=='m'"}],
   "mark":{"type":"text","fontSize":18.5,"align":"left","baseline":"alphabetic","color":"#222222","font":"Liberation Serif"},
   "encoding":{"x":{"field":"N","type":"quantitative","scale":{"domain":[140,187],"nice":false,"zero":false},"axis":null},"y":{"field":"Q","type":"quantitative","scale":{"domain":[4.55,18.65],"nice":false,"zero":false},"axis":null},"text":{"field":"t"}}}
 ],
 "resolve":{"axis":{"x":"independent","y":"independent"}}},
{"width":383,"height":224,
 "layer":[
  {"data":{"name":"pts"},"transform":[{"filter":"datum.p=='d'"}],
   "mark":{"type":"line","strokeDash":[3,2],"strokeWidth":1,"clip":true},
   "encoding":{
    "x":{"field":"N","type":"quantitative","scale":{"domain":[140,187],"nice":false,"zero":false},"axis":{"orient":"bottom","values":[140,142,144,146,148,150,152,154,156,158,160,162,164,166,168,170,172,174,176,178,180,182,184,186],"labels":false,"tickSize":-4.5,"title":null}},
    "y":{"field":"Q","type":"quantitative","scale":{"domain":[4.55,18.65],"nice":false,"zero":false},"axis":{"orient":"right","values":[5,6,7,8,9,10,11,12,13,14,15,16,17,18],"tickSize":-4.5,"labelPadding":14.5,"title":"Qα (MeV)","titleAngle":270,"titleBaseline":"top","titlePadding":12}},
    "color":{"field":"Z","type":"nominal","scale":{"domain":[90,92,94,96,98,100,102,104,106,108,110,112,114,116,118,120,122,124,126],"range":["#ff0000","#000000","#000000","#000000","#000000","#ff0000","#000000","#000000","#000000","#000000","#ff0000","#000000","#000000","#000000","#000000","#ff0000","#000000","#000000","#000000"]},"legend":null}}},
  {"data":{"name":"pts"},"transform":[{"filter":"datum.p=='d'"}],
   "mark":{"type":"circle","size":38,"opacity":1,"clip":true},
   "encoding":{
    "x":{"field":"N","type":"quantitative","scale":{"domain":[140,187],"nice":false,"zero":false},"axis":{"orient":"top","values":[140,142,144,146,148,150,152,154,156,158,160,162,164,166,168,170,172,174,176,178,180,182,184,186],"labels":false,"tickSize":-4.5,"title":null}},
    "y":{"field":"Q","type":"quantitative","scale":{"domain":[4.55,18.65],"nice":false,"zero":false},"axis":{"orient":"left","values":[5,6,7,8,9,10,11,12,13,14,15,16,17,18],"labels":false,"tickSize":-4.5,"title":null}},
    "color":{"field":"Z","type":"nominal","scale":{"domain":[90,92,94,96,98,100,102,104,106,108,110,112,114,116,118,120,122,124,126],"range":["#ff0000","#000000","#000000","#000000","#000000","#ff0000","#000000","#000000","#000000","#000000","#ff0000","#000000","#000000","#000000","#000000","#ff0000","#000000","#000000","#000000"]},"legend":null}}},
  {"data":{"name":"ttl"},"transform":[{"filter":"datum.p=='d'"}],
   "mark":{"type":"text","fontSize":18.5,"align":"left","baseline":"alphabetic","color":"#222222","font":"Liberation Serif"},
   "encoding":{"x":{"field":"N","type":"quantitative","scale":{"domain":[140,187],"nice":false,"zero":false},"axis":null},"y":{"field":"Q","type":"quantitative","scale":{"domain":[4.55,18.65],"nice":false,"zero":false},"axis":null},"text":{"field":"t"}}}
 ],
 "resolve":{"axis":{"x":"independent","y":"independent"}}}
],"spacing":6,"bounds":"flush"},
{"hconcat":[
{"width":383,"height":224,
 "layer":[
  {"data":{"name":"pts"},"transform":[{"filter":"datum.p=='s'"}],
   "mark":{"type":"line","strokeDash":[3,2],"strokeWidth":1,"clip":true},
   "encoding":{
    "x":{"field":"N","type":"quantitative","scale":{"domain":[140,187],"nice":false,"zero":false},"axis":{"orient":"bottom","values":[140,142,144,146,148,150,152,154,156,158,160,162,164,166,168,170,172,174,176,178,180,182,184,186],"labelExpr":"datum.value % 4 == 0 ? datum.label : ''","tickSize":-4.5,"labelPadding":8.5,"title":"Neutron number N","titleX":386,"titleY":43,"titleAlign":"center","titleBaseline":"alphabetic","titleFontSize":24}},
    "y":{"field":"Q","type":"quantitative","scale":{"domain":[4.55,18.65],"nice":false,"zero":false},"axis":{"orient":"left","values":[5,6,7,8,9,10,11,12,13,14,15,16,17,18],"tickSize":-4.5,"labelPadding":14.5,"title":"Qα (MeV)","titlePadding":12}},
    "color":{"field":"Z","type":"nominal","scale":{"domain":[90,92,94,96,98,100,102,104,106,108,110,112,114,116,118,120,122,124,126],"range":["#ff0000","#000000","#000000","#000000","#000000","#ff0000","#000000","#000000","#000000","#000000","#ff0000","#000000","#000000","#000000","#000000","#ff0000","#000000","#000000","#000000"]},"legend":null}}},
  {"data":{"name":"pts"},"transform":[{"filter":"datum.p=='s'"}],
   "mark":{"type":"circle","size":38,"opacity":1,"clip":true},
   "encoding":{
    "x":{"field":"N","type":"quantitative","scale":{"domain":[140,187],"nice":false,"zero":false},"axis":{"orient":"top","values":[140,142,144,146,148,150,152,154,156,158,160,162,164,166,168,170,172,174,176,178,180,182,184,186],"labels":false,"tickSize":-4.5,"title":null}},
    "y":{"field":"Q","type":"quantitative","scale":{"domain":[4.55,18.65],"nice":false,"zero":false},"axis":{"orient":"right","values":[5,6,7,8,9,10,11,12,13,14,15,16,17,18],"labels":false,"tickSize":-4.5,"title":null}},
    "color":{"field":"Z","type":"nominal","scale":{"domain":[90,92,94,96,98,100,102,104,106,108,110,112,114,116,118,120,122,124,126],"range":["#ff0000","#000000","#000000","#000000","#000000","#ff0000","#000000","#000000","#000000","#000000","#ff0000","#000000","#000000","#000000","#000000","#ff0000","#000000","#000000","#000000"]},"legend":null}}},
  {"data":{"name":"ttl"},"transform":[{"filter":"datum.p=='s'"}],
   "mark":{"type":"text","fontSize":18.5,"align":"left","baseline":"alphabetic","color":"#222222","font":"Liberation Serif"},
   "encoding":{"x":{"field":"N","type":"quantitative","scale":{"domain":[140,187],"nice":false,"zero":false},"axis":null},"y":{"field":"Q","type":"quantitative","scale":{"domain":[4.55,18.65],"nice":false,"zero":false},"axis":null},"text":{"field":"t"}}}
 ],
 "resolve":{"axis":{"x":"independent","y":"independent"}}},
{"width":383,"height":224,
 "layer":[
  {"data":{"name":"pts"},"transform":[{"filter":"datum.p=='g'"}],
   "mark":{"type":"line","strokeDash":[3,2],"strokeWidth":1,"clip":true},
   "encoding":{
    "x":{"field":"N","type":"quantitative","scale":{"domain":[140,187],"nice":false,"zero":false},"axis":{"orient":"bottom","values":[140,142,144,146,148,150,152,154,156,158,160,162,164,166,168,170,172,174,176,178,180,182,184,186],"labelExpr":"datum.value % 4 == 0 ? datum.label : ''","tickSize":-4.5,"labelPadding":8.5,"title":null}},
    "y":{"field":"Q","type":"quantitative","scale":{"domain":[4.55,18.65],"nice":false,"zero":false},"axis":{"orient":"right","values":[5,6,7,8,9,10,11,12,13,14,15,16,17,18],"tickSize":-4.5,"labelPadding":14.5,"title":"Qα (MeV)","titleAngle":270,"titleBaseline":"top","titlePadding":12}},
    "color":{"field":"Z","type":"nominal","scale":{"domain":[90,92,94,96,98,100,102,104,106,108,110,112,114,116,118,120,122,124,126],"range":["#ff0000","#000000","#000000","#000000","#000000","#ff0000","#000000","#000000","#000000","#000000","#ff0000","#000000","#000000","#000000","#000000","#ff0000","#000000","#000000","#000000"]},"legend":null}}},
  {"data":{"name":"pts"},"transform":[{"filter":"datum.p=='g'"}],
   "mark":{"type":"circle","size":38,"opacity":1,"clip":true},
   "encoding":{
    "x":{"field":"N","type":"quantitative","scale":{"domain":[140,187],"nice":false,"zero":false},"axis":{"orient":"top","values":[140,142,144,146,148,150,152,154,156,158,160,162,164,166,168,170,172,174,176,178,180,182,184,186],"labels":false,"tickSize":-4.5,"title":null}},
    "y":{"field":"Q","type":"quantitative","scale":{"domain":[4.55,18.65],"nice":false,"zero":false},"axis":{"orient":"left","values":[5,6,7,8,9,10,11,12,13,14,15,16,17,18],"labels":false,"tickSize":-4.5,"title":null}},
    "color":{"field":"Z","type":"nominal","scale":{"domain":[90,92,94,96,98,100,102,104,106,108,110,112,114,116,118,120,122,124,126],"range":["#ff0000","#000000","#000000","#000000","#000000","#ff0000","#000000","#000000","#000000","#000000","#ff0000","#000000","#000000","#000000","#000000","#ff0000","#000000","#000000","#000000"]},"legend":null}}},
  {"data":{"name":"ttl"},"transform":[{"filter":"datum.p=='g'"}],
   "mark":{"type":"text","fontSize":18.5,"align":"left","baseline":"alphabetic","color":"#222222","font":"Liberation Serif"},
   "encoding":{"x":{"field":"N","type":"quantitative","scale":{"domain":[140,187],"nice":false,"zero":false},"axis":null},"y":{"field":"Q","type":"quantitative","scale":{"domain":[4.55,18.65],"nice":false,"zero":false},"axis":null},"text":{"field":"t"}}},
  {"data":{"name":"sup"},
   "mark":{"type":"text","fontSize":12,"align":"left","baseline":"alphabetic","color":"#222222","font":"Liberation Serif","fontStyle":"italic"},
   "encoding":{"x":{"field":"N","type":"quantitative","scale":{"domain":[140,187],"nice":false,"zero":false},"axis":null},"y":{"field":"Q","type":"quantitative","scale":{"domain":[4.55,18.65],"nice":false,"zero":false},"axis":null},"text":{"field":"t"}}}
 ],
 "resolve":{"axis":{"x":"independent","y":"independent"}}}
],"spacing":6,"bounds":"flush"}
],
"config":{
 "font":"Liberation Serif",
 "view":{"stroke":"#000000","strokeWidth":1.2},
 "axis":{"labelFont":"Liberation Serif","labelFontSize":16,"labelColor":"#1a1a1a","titleFont":"Liberation Serif","titleFontSize":24,"titleFontWeight":"normal","titleColor":"#1a1a1a","tickColor":"#000000","tickWidth":1,"domain":false,"grid":false,"labelFlush":false,"labelOverlap":false,"labelBound":false}
}
}
